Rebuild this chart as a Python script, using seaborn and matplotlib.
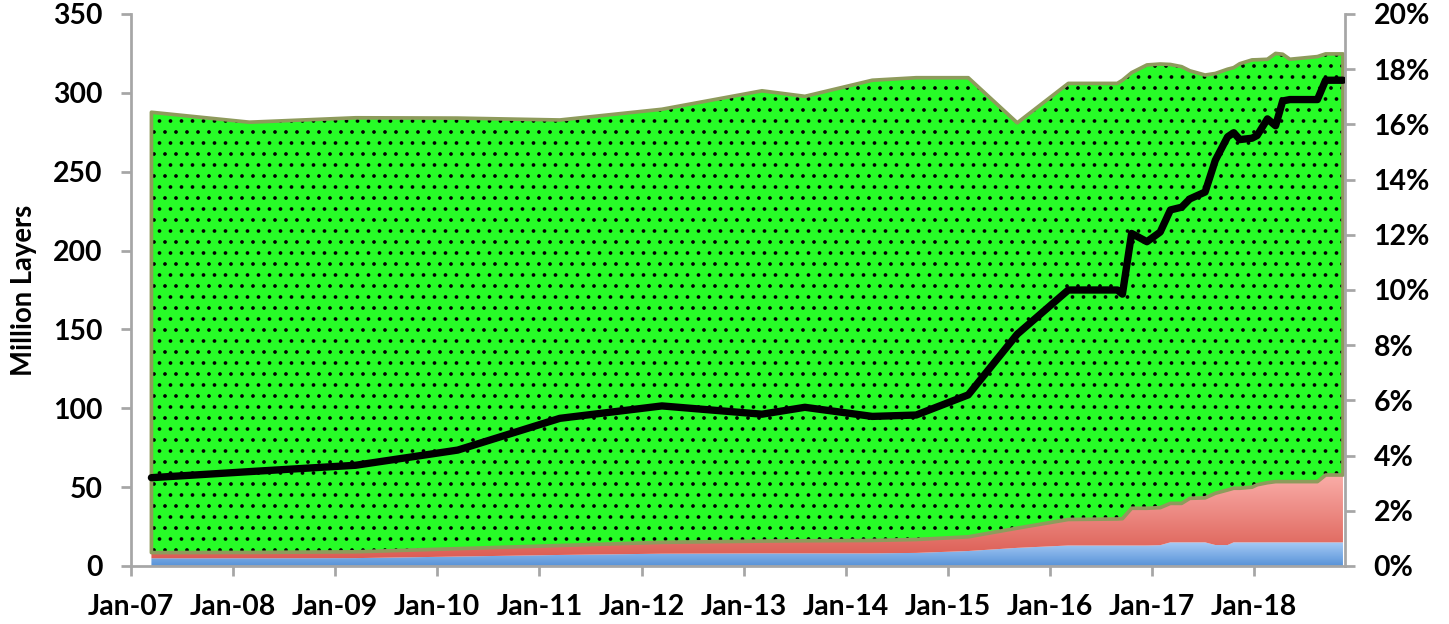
import numpy as np
import pandas as pd
import matplotlib
matplotlib.use("Agg")
import matplotlib.pyplot as plt
import seaborn as sns
from matplotlib.colors import LinearSegmentedColormap
from matplotlib.ticker import MultipleLocator, FuncFormatter

# ---------------- data ----------------
dates = [2007.20, 2008.16, 2009.20, 2010.20, 2011.20, 2012.20, 2013.18, 2013.60,
         2014.26, 2014.69, 2015.20, 2015.68, 2016.18, 2016.66, 2016.71, 2016.80,
         2016.95, 2017.08, 2017.18, 2017.29, 2017.37, 2017.52, 2017.62, 2017.74,
         2017.80, 2017.86, 2017.98, 2018.03, 2018.13, 2018.21, 2018.28, 2018.35,
         2018.62, 2018.70, 2018.87]

blue_layers = [4.9, 4.9, 5.0, 6.0, 7.0, 7.8, 8.0, 8.0,
               8.0, 8.3, 9.5, 11.5, 13.0, 13.0, 13.0, 13.0,
               13.0, 13.2, 15.0, 15.0, 15.0, 15.0, 13.3, 13.3,
               15.0, 15.0, 15.0, 15.0, 15.0, 15.0, 15.0, 15.0,
               15.0, 15.0, 15.0]

red_layers = [3.6, 3.7, 4.0, 5.0, 6.0, 7.2, 7.8, 8.0,
              8.2, 8.5, 9.0, 12.5, 16.5, 16.8, 17.0, 23.6,
              23.6, 23.8, 24.7, 24.7, 27.9, 28.2, 32.8, 34.9,
              34.3, 34.3, 35.0, 36.5, 37.8, 38.5, 38.5, 38.5,
              38.5, 42.7, 42.7]

total_layers = [287.7, 281.4, 284.2, 284.0, 282.8, 289.6, 301.3, 297.8,
                308.0, 309.6, 309.6, 281.0, 306.0, 306.0, 308.0, 312.8,
                317.7, 318.3, 318.0, 316.6, 314.0, 311.3, 312.3, 315.0,
                316.0, 318.5, 320.9, 321.0, 321.3, 325.0, 324.5, 321.3,
                323.0, 324.7, 324.7]

share_pct = [3.20, 3.42, 3.65, 4.20, 5.35, 5.80, 5.50, 5.75,
             5.42, 5.47, 6.20, 8.40, 10.00, 10.00, 9.85, 12.05,
             11.75, 12.10, 12.90, 13.00, 13.30, 13.55, 14.70, 15.55,
             15.70, 15.45, 15.50, 15.60, 16.20, 15.95, 16.85, 16.90,
             16.90, 17.60, 17.60]

tick_years = list(range(2007, 2019))
tick_labels = ["Jan-07", "Jan-08", "Jan-09", "Jan-10", "Jan-11", "Jan-12",
               "Jan-13", "Jan-14", "Jan-15", "Jan-16", "Jan-17", "Jan-18"]
y_label = "Million Layers"

# ---------------- style ----------------
DPI = 132
W, H = 1449, 624
sns.set_theme(style="white")
plt.rcParams["font.family"] = ["Lato", "DejaVu Sans"]
plt.rcParams["font.weight"] = "bold"
plt.rcParams["hatch.linewidth"] = 0.8
plt.rcParams["hatch.color"] = "black"

GRAY = "#A6A6A6"
GREEN = "#27FC27"
OLIVE = "#8E9B5C"

df = pd.DataFrame({"date": dates, "blue": blue_layers, "red": red_layers,
                   "total": total_layers, "share": share_pct})
x = df["date"].to_numpy()
b_top = df["blue"].to_numpy()
r_top = b_top + df["red"].to_numpy()
t_top = df["total"].to_numpy()

fig = plt.figure(figsize=(W / DPI, H / DPI), dpi=DPI)
ax = fig.add_axes([131 / W, 58 / H, (1345 - 131) / W, (566 - 14) / H])

# blue layer with vertical gradient
blue_cmap = LinearSegmentedColormap.from_list("b", ["#5893D8", "#A6CAF5"])
pb = ax.fill_between(x, 0, b_top, facecolor="none", linewidth=0, zorder=1)
grad = np.linspace(0, 1, 256).reshape(-1, 1)
imb = ax.imshow(grad, extent=[x.min(), x.max(), 0, b_top.max()], origin="lower",
                cmap=blue_cmap, aspect="auto", zorder=1, interpolation="bilinear")
imb.set_clip_path(pb.get_paths()[0], transform=ax.transData)

# red layer with vertical gradient
red_cmap = LinearSegmentedColormap.from_list("r", ["#D9564C", "#FAAEA9"])
pr = ax.fill_between(x, b_top, r_top, facecolor="none", linewidth=0, zorder=1)
imr = ax.imshow(grad, extent=[x.min(), x.max(), 0, r_top.max()], origin="lower",
                cmap=red_cmap, aspect="auto", zorder=1, interpolation="bilinear")
imr.set_clip_path(pr.get_paths()[0], transform=ax.transData)

# green dotted layer
ax.fill_between(x, r_top, t_top, facecolor=GREEN, edgecolor="black", hatch="..",
                linewidth=0, zorder=2)
ax.fill_between(x, r_top, t_top, facecolor="none", edgecolor=OLIVE,
                linewidth=2.0, zorder=3)

ax.set_xlim(2007.0, 2018.89)
ax.set_ylim(0, 350)
ax.yaxis.set_major_locator(MultipleLocator(50))
ax.set_xticks(tick_years)
ax.set_xticklabels(tick_labels)

# share line on the secondary axis
ax2 = ax.twinx()
sns.lineplot(data=df, x="date", y="share", ax=ax2, color="black", linewidth=4.0,
             solid_capstyle="round", solid_joinstyle="round", zorder=5)
ax2.set_ylim(0, 20)
ax2.set_xlim(2007.0, 2018.89)
ax2.yaxis.set_major_locator(MultipleLocator(2))
ax2.yaxis.set_major_formatter(FuncFormatter(lambda v, p: f"{v:.0f}%"))
ax2.set_ylabel("")
ax2.set_xlabel("")

# spines and ticks
for s in ["top", "right"]:
    ax.spines[s].set_visible(False)
for s in ["left", "bottom"]:
    ax.spines[s].set_color(GRAY)
    ax.spines[s].set_linewidth(1.5)
for s in ["top", "left", "bottom"]:
    ax2.spines[s].set_visible(False)
ax2.spines["right"].set_color(GRAY)
ax2.spines["right"].set_linewidth(1.5)

ax.tick_params(axis="y", left=True, direction="out", length=5.5, width=1.5,
               color=GRAY, labelcolor="black", labelsize=15.5, pad=10)
ax.tick_params(axis="x", bottom=True, direction="out", length=5.5, width=1.5,
               color=GRAY, labelcolor="black", labelsize=15.5, pad=10)
ax2.tick_params(axis="y", right=True, direction="out", length=5.5, width=1.5,
                color=GRAY, labelcolor="black", labelsize=15.5, pad=10)
ax.set_ylabel(y_label, fontsize=15, fontweight="bold", color="black", labelpad=9)
ax.set_xlabel("")

fig.savefig("out.png", dpi=DPI, facecolor="white")
